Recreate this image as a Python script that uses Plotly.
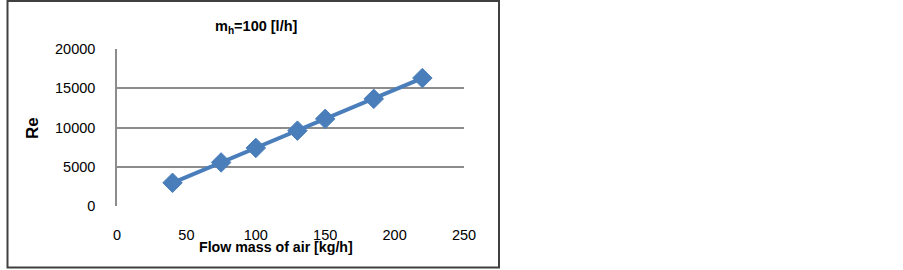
import plotly.graph_objects as go

flow_mass_air = [40, 75, 100, 130, 150, 185, 220]
reynolds = [2950, 5550, 7400, 9600, 11100, 13650, 16300]
x_ticks = [0, 50, 100, 150, 200, 250]
y_ticks = [0, 5000, 10000, 15000, 20000]

W, H = 903, 270
L, R, T, B = 117, 464, 49, 206

def px(x):
    return (x - L) / (R - L)

def py(y):
    return (B - y) / (B - T)

fig = go.Figure()
fig.add_trace(go.Scatter(
    x=flow_mass_air, y=reynolds, mode="lines+markers",
    line=dict(color="#4A7EBB", width=4),
    marker=dict(symbol="diamond", size=15, color="#4A7EBB",
                line=dict(color="#4A7EBB", width=1)),
    showlegend=False, cliponaxis=False,
))

font = dict(family="Liberation Sans, Arial, sans-serif", size=14.5, color="#000000")

fig.update_layout(
    width=W, height=H,
    margin=dict(l=L, r=W - R, t=T, b=H - B),
    paper_bgcolor="white", plot_bgcolor="white",
    font=font,
    xaxis=dict(range=[0, 250], tickvals=x_ticks, tickformat="d", showgrid=False,
               zeroline=False, showline=False, ticks="", ticklabelstandoff=18,
               fixedrange=True),
    yaxis=dict(range=[0, 20000], tickvals=y_ticks, tickformat="d", showgrid=True,
               gridcolor="#8C8C8C", gridwidth=1.5, zeroline=False,
               showline=True, linecolor="#8C8C8C", linewidth=1.5,
               ticks="", ticklabelstandoff=17, fixedrange=True),
    shapes=[dict(type="rect", xref="paper", yref="paper",
                 x0=px(7.5), x1=px(499), y0=py(267.5), y1=py(1),
                 line=dict(color="#404040", width=2), layer="below")],
    annotations=[
        dict(text="<b>m<sub>h</sub>=100 [l/h]</b>", xref="paper", yref="paper",
             x=px(256), y=py(27), showarrow=False, xanchor="center", yanchor="middle",
             font=dict(size=14.5)),
        dict(text="<b>Flow mass of air [kg/h]</b>", xref="paper", yref="paper",
             x=px(275.5), y=py(247), showarrow=False, xanchor="center", yanchor="middle",
             font=dict(size=14.2)),
        dict(text="<b>Re</b>", xref="paper", yref="paper", textangle=-90,
             x=px(32), y=py(128), showarrow=False, xanchor="center", yanchor="middle",
             font=dict(size=17)),
    ],
)

fig.write_html("out.html", config={"displayModeBar": False},
               post_script="document.body.style.margin='0';document.body.style.overflow='hidden';")
